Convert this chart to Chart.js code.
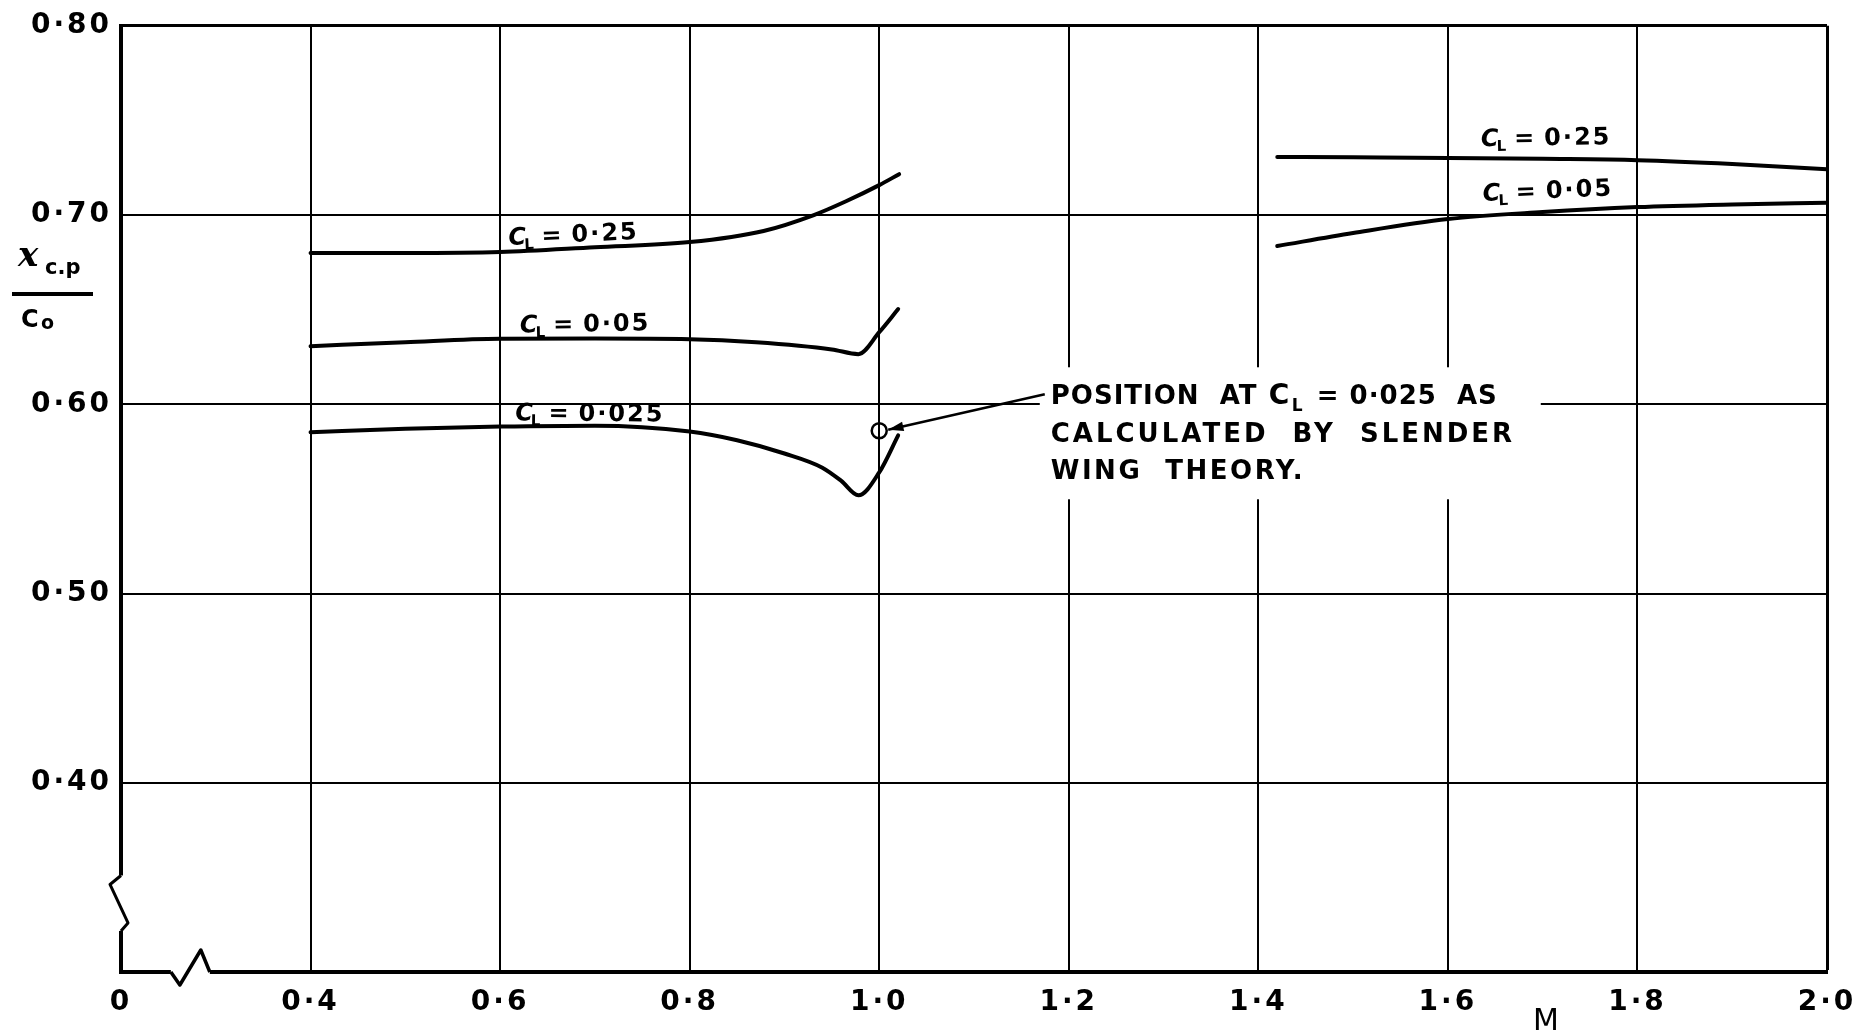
<!DOCTYPE html>
<html>
<head>
<meta charset="utf-8">
<script src="https://cdn.jsdelivr.net/npm/chart.js@4.4.0/dist/chart.umd.min.js"></script>
<style>
  html, body { margin: 0; padding: 0; background: #fff; }
  #wrap { width: 1876px; height: 1032px; }
</style>
</head>
<body>
<div id="wrap"><canvas id="cpChart"></canvas></div>
<script>
// axis ticks (first x grid line is the broken-axis "0", lowest y line is the break)
const xTicks = [0.2, 0.4, 0.6, 0.8, 1.0, 1.2, 1.4, 1.6, 1.8, 2.0];
const xTickLabels = ['0', '0·4', '0·6', '0·8', '1·0', '1·2', '1·4', '1·6', '1·8', '2·0'];
const yTicks = [0.3, 0.4, 0.5, 0.6, 0.7, 0.8];
const yTickLabels = ['', '0·40', '0·50', '0·60', '0·70', '0·80'];

// C_L = 0.25 below M = 1
const machSub25 = [0.4, 0.5, 0.6, 0.7, 0.8, 0.878, 0.931, 0.965, 1.0, 1.021];
const xcpSub25 = [0.680, 0.680, 0.6805, 0.683, 0.6857, 0.6916, 0.700, 0.7073, 0.7158, 0.7216];
// C_L = 0.05 below M = 1
const machSub05 = [0.4, 0.5, 0.6, 0.7, 0.8, 0.87, 0.95, 0.978, 1.0, 1.02];
const xcpSub05 = [0.6307, 0.6328, 0.6346, 0.6347, 0.6344, 0.6328, 0.6290, 0.6265, 0.6381, 0.6503];
// C_L = 0.025 below M = 1
const machSub025 = [0.4, 0.5, 0.6, 0.7, 0.8, 0.85, 0.9, 0.94, 0.96, 0.978, 1.0, 1.02];
const xcpSub025 = [0.5852, 0.5871, 0.5882, 0.5887, 0.5856, 0.581, 0.574, 0.5665, 0.5595, 0.5519, 0.564, 0.5836];
// supersonic
const machSup25 = [1.42, 1.5, 1.6, 1.7, 1.8, 1.9, 2.0];
const xcpSup25 = [0.7307, 0.7305, 0.7302, 0.7297, 0.729, 0.727, 0.7242];
const machSup05 = [1.42, 1.5, 1.6, 1.7, 1.8, 1.9, 2.0];
const xcpSup05 = [0.6836, 0.6905, 0.6979, 0.7016, 0.7042, 0.7056, 0.7065];
// slender wing theory, C_L = 0.025
const machSlender = [1.0];
const xcpSlender = [0.586];

const FONT = '"DejaVu Sans", sans-serif';

function toPoints(xs, ys) {
    return xs.map((x, i) => ({ x: x, y: ys[i] }));
}

function curve(xs, ys) {
    return {
        data: toPoints(xs, ys),
        borderColor: '#000',
        borderWidth: 4,
        pointRadius: 0,
        fill: false,
        cubicInterpolationMode: 'monotone',
        borderCapStyle: 'round',
        borderJoinStyle: 'round'
    };
}

function spaced(ctx, px) {
    if ('letterSpacing' in ctx) ctx.letterSpacing = px + 'px';
}

// "C_L = value" curve labels
function drawCL(ctx, x, y, angle, valueText) {
    ctx.save();
    ctx.translate(x, y);
    ctx.rotate(angle * Math.PI / 180);
    ctx.fillStyle = '#000';
    ctx.textAlign = 'left';
    ctx.textBaseline = 'alphabetic';
    spaced(ctx, 0);
    ctx.font = 'italic bold 24px ' + FONT;
    ctx.fillText('C', 0, 0);
    let w = ctx.measureText('C').width;
    ctx.font = 'bold 15px ' + FONT;
    ctx.fillText('L', w - 2, 5);
    w += ctx.measureText('L').width + 6;
    ctx.font = 'bold 24px ' + FONT;
    ctx.fillText('=', w, 0);
    w += ctx.measureText('=').width + 10;
    spaced(ctx, 2);
    ctx.fillText(valueText, w, 0);
    ctx.restore();
}

const decorations = {
    id: 'decorations',
    beforeDraw(chart) {
        spaced(chart.ctx, 3);
    },
    afterDatasetsDraw(chart) {
        const ctx = chart.ctx;
        const area = chart.chartArea;
        const px = v => chart.scales.x.getPixelForValue(v);
        const py = v => chart.scales.y.getPixelForValue(v);
        ctx.save();
        ctx.fillStyle = '#000';
        ctx.strokeStyle = '#000';

        // curve labels
        drawCL(ctx, px(0.609), py(0.6842), -2.6, '0·25');
        drawCL(ctx, px(0.621), py(0.6379), -1, '0·05');
        drawCL(ctx, px(0.616), py(0.5916), 0.5, '0·025');
        drawCL(ctx, px(1.635), py(0.7363), -1, '0·25');
        drawCL(ctx, px(1.637), py(0.7074), -2.5, '0·05');

        // note box with the slender wing theory text
        const nx = px(1.181), ny = py(0.600);
        ctx.fillStyle = '#fff';
        ctx.fillRect(nx - 11, ny - 37, 501, 132);
        ctx.fillStyle = '#000';
        ctx.textAlign = 'left';
        ctx.textBaseline = 'alphabetic';
        ctx.font = 'bold 26px ' + FONT;
        spaced(ctx, 1);
        ctx.fillText('POSITION  AT', nx, ny);
        spaced(ctx, 0);
        ctx.font = 'bold 28px ' + FONT;
        ctx.fillText('C', nx + 218, ny);
        ctx.font = 'bold 17px ' + FONT;
        ctx.fillText('L', nx + 241, ny + 7);
        ctx.font = 'bold 26px ' + FONT;
        spaced(ctx, 1);
        ctx.fillText('= 0·025  AS', nx + 266, ny);
        spaced(ctx, 3);
        ctx.fillText('CALCULATED  BY  SLENDER', nx, ny + 38);
        spaced(ctx, 2.5);
        ctx.fillText('WING  THEORY.', nx, ny + 75);

        // arrow from the note to the circled point
        const cx = px(machSlender[0]), cy = py(xcpSlender[0]);
        const sx = nx - 6, sy = ny - 10;
        const tx = cx + 9, ty = cy - 1;
        ctx.lineWidth = 2.5;
        ctx.beginPath();
        ctx.moveTo(sx, sy);
        ctx.lineTo(tx, ty);
        ctx.stroke();
        const ang = Math.atan2(ty - sy, tx - sx);
        ctx.beginPath();
        ctx.moveTo(tx, ty);
        ctx.lineTo(tx - 16 * Math.cos(ang - 0.3), ty - 16 * Math.sin(ang - 0.3));
        ctx.lineTo(tx - 16 * Math.cos(ang + 0.3), ty - 16 * Math.sin(ang + 0.3));
        ctx.closePath();
        ctx.fill();

        // broken y axis
        const yb1 = py(0.351), yb2 = py(0.3217);
        ctx.fillStyle = '#fff';
        ctx.fillRect(area.left - 4, yb1, 8, yb2 - yb1);
        ctx.lineWidth = 3;
        ctx.lineJoin = 'round';
        ctx.beginPath();
        ctx.moveTo(area.left, yb1);
        ctx.lineTo(area.left - 11, yb1 + 9);
        ctx.lineTo(area.left + 7, yb2 - 8);
        ctx.lineTo(area.left, yb2);
        ctx.stroke();

        // broken x axis
        const xb1 = px(0.2526), xb2 = px(0.2937);
        ctx.fillRect(xb1, area.bottom - 4, xb2 - xb1, 8);
        ctx.lineWidth = 3.5;
        ctx.beginPath();
        ctx.moveTo(xb1, area.bottom);
        ctx.lineTo(xb1 + 9, area.bottom + 13);
        ctx.lineTo(xb2 - 9, area.bottom - 22);
        ctx.lineTo(xb2, area.bottom);
        ctx.stroke();

        // y axis title  x_c.p / C_o
        ctx.fillStyle = '#000';
        spaced(ctx, 0);
        ctx.font = 'italic bold 34px "DejaVu Serif", serif';
        ctx.fillText('x', 18, 266);
        ctx.font = 'bold 21px ' + FONT;
        ctx.fillText('c.p', 45, 274);
        ctx.fillRect(12, 292, 81, 4);
        ctx.font = 'bold 24px ' + FONT;
        ctx.fillText('C', 21, 327);
        ctx.font = 'bold 19px ' + FONT;
        ctx.fillText('o', 41, 329);

        // x axis title
        ctx.font = '30px ' + FONT;
        ctx.textAlign = 'center';
        ctx.fillText('M', 1546, 1030);
        ctx.restore();
    }
};

const ctx = document.getElementById('cpChart').getContext('2d');
new Chart(ctx, {
    type: 'line',
    data: {
        datasets: [
            curve(machSub25, xcpSub25),
            curve(machSub05, xcpSub05),
            curve(machSub025, xcpSub025),
            curve(machSup25, xcpSup25),
            curve(machSup05, xcpSup05),
            {
                data: toPoints(machSlender, xcpSlender),
                showLine: false,
                pointRadius: 7.5,
                pointBorderWidth: 2.5,
                pointBorderColor: '#000',
                pointBackgroundColor: 'rgba(0,0,0,0)'
            }
        ]
    },
    options: {
        responsive: true,
        maintainAspectRatio: false,
        animation: false,
        layout: { padding: { top: 22, right: 49, bottom: 0, left: 0 } },
        plugins: {
            legend: { display: false },
            tooltip: { enabled: false }
        },
        scales: {
            x: {
                type: 'linear',
                min: 0.2,
                max: 2.0,
                afterBuildTicks: s => { s.ticks = xTicks.map(v => ({ value: v })); },
                afterFit: s => { s.height = 60; },
                ticks: {
                    callback: (v, i) => xTickLabels[i],
                    color: '#000',
                    font: { family: FONT, size: 28, weight: 'bold' },
                    padding: 14,
                    maxRotation: 0,
                    autoSkip: false
                },
                grid: {
                    color: c => (c.tick && Math.abs(c.tick.value - 0.2) < 1e-6) ? 'rgba(0,0,0,0)' : '#000',
                    lineWidth: c => (c.tick && Math.abs(c.tick.value - 2.0) < 1e-6) ? 3 : 2,
                    drawTicks: false
                },
                border: { display: true, color: '#000', width: 4 }
            },
            y: {
                type: 'linear',
                min: 0.3,
                max: 0.8,
                afterBuildTicks: s => { s.ticks = yTicks.map(v => ({ value: v })); },
                afterFit: s => { s.width = 121; },
                ticks: {
                    callback: (v, i) => yTickLabels[i],
                    color: '#000',
                    font: { family: FONT, size: 28, weight: 'bold' },
                    padding: 9,
                    autoSkip: false
                },
                grid: {
                    color: c => (c.tick && Math.abs(c.tick.value - 0.3) < 1e-6) ? 'rgba(0,0,0,0)' : '#000',
                    lineWidth: c => (c.tick && Math.abs(c.tick.value - 0.8) < 1e-6) ? 3 : 2,
                    drawTicks: false
                },
                border: { display: true, color: '#000', width: 4 }
            }
        }
    },
    plugins: [decorations]
});
</script>
</body>
</html>
